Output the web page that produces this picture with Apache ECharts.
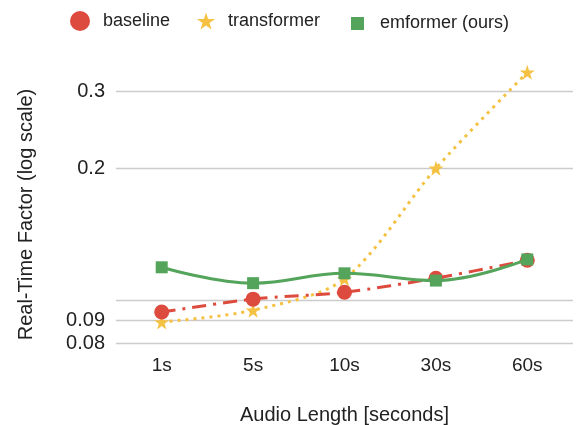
<!DOCTYPE html>
<html><head><meta charset="utf-8">
<script src="https://cdn.jsdelivr.net/npm/echarts@6/dist/echarts.min.js"></script>
<style>html,body{margin:0;padding:0;background:#fff}#c{width:576px;height:425px}</style>
</head><body><div id="c"></div>
<script>
const categories = ['1s', '5s', '10s', '30s', '60s'];
const baseline = [0.0941, 0.1007, 0.1044, 0.1124, 0.1235];
const transformer = [0.0893, 0.0950, 0.1120, 0.2000, 0.331];
const emformer = [0.119, 0.1095, 0.1153, 0.1110, 0.1240];
const yTicks = [0.08, 0.09, 0.1, 0.2, 0.3];
const yLabels = [0.08, 0.09, 0.2, 0.3];

const STAR = 'path://M50,0 L61.2,34.5 L97.6,34.5 L68.2,55.9 L79.4,90.5 L50,69.1 L20.6,90.5 L31.8,55.9 L2.4,34.5 L38.8,34.5 Z';
const RED = '#DD4B3E', YEL = '#F5C142', GRN = '#54A55B';
const font = 'Liberation Sans, Arial, sans-serif';

const chart = echarts.init(document.getElementById('c'));
function leg(name, icon, left, w, h, gap) {
  return {
    left: left, top: 21 - h / 2, padding: 0, itemWidth: w, itemHeight: h, icon: icon,
    data: [name], selectedMode: false,
    textStyle: { fontSize: 18, color: '#222', fontFamily: font, padding: [0, 0, 0, gap] }
  };
}
chart.setOption({
  animation: false,
  textStyle: { fontFamily: font },
  legend: [
    leg('baseline', 'circle', 70, 20, 20, 8),
    leg('transformer', STAR, 197, 18, 18, 8),
    leg('emformer (ours)', 'rect', 351, 13, 13, 11)
  ],
  grid: { left: 116, right: 3, top: 70, bottom: 82, containLabel: false, outerBoundsMode: 'none' },
  xAxis: {
    type: 'category', data: categories, boundaryGap: true,
    axisLine: { show: false }, axisTick: { show: false },
    axisLabel: { fontSize: 19, color: '#222', margin: 13, fontFamily: font },
    name: 'Audio Length [seconds]', nameLocation: 'middle', nameGap: 62,
    nameTextStyle: { fontSize: 20, color: '#222', fontFamily: font }
  },
  yAxis: {
    type: 'log', logBase: 10, min: 0.08, max: 0.335,
    axisLine: { show: false },
    axisTick: { show: false, customValues: yTicks },
    axisLabel: { customValues: yLabels, fontSize: 20, color: '#222', margin: 11, fontFamily: font,
      formatter: v => String(+v.toFixed(2)) },
    splitLine: { show: true, lineStyle: { color: '#cccccc', width: 1.3 } },
    name: 'Real-Time Factor (log scale)', nameLocation: 'middle', nameGap: 80,
    nameTextStyle: { fontSize: 20, color: '#222', fontFamily: font, padding: [0, 16, 0, 0] }
  },
  series: [
    { name: 'baseline', type: 'line', data: baseline, smooth: 0.3, symbol: 'circle', symbolSize: 15,
      itemStyle: { color: RED }, lineStyle: { color: RED, width: 3, type: [14, 7, 3, 7] }, z: 3 },
    { name: 'transformer', type: 'line', data: transformer, smooth: 0.3, symbol: STAR, symbolSize: 15,
      itemStyle: { color: YEL }, lineStyle: { color: YEL, width: 3, type: [3, 5] }, z: 2 },
    { name: 'emformer (ours)', type: 'line', data: emformer, smooth: 0.4, symbol: 'rect', symbolSize: 12,
      itemStyle: { color: GRN }, lineStyle: { color: GRN, width: 3 }, z: 4 }
  ]
});
</script></body></html>
